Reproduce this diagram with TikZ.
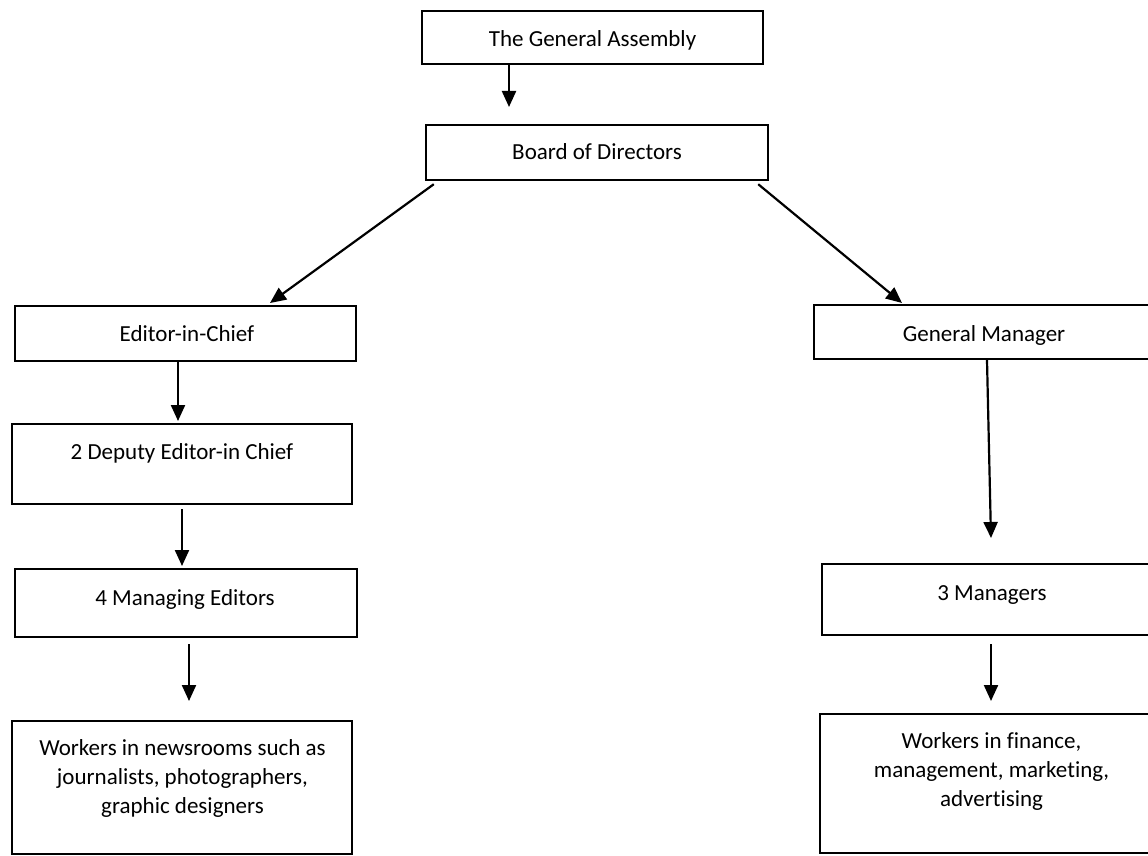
\documentclass[tikz,border=0pt]{standalone}
\usepackage{fontspec}
\setmainfont{Carlito}[Ligatures=NoCommon]
\usetikzlibrary{arrows.meta,calc}
\begin{document}
\begin{tikzpicture}[x=1pt,y=-1pt,
  box/.style={draw, line width=2.4pt, inner sep=0pt},
  lbl/.style={inner sep=0pt, font=\fontsize{23}{29}\selectfont, align=center, anchor=base},
  arr/.style={line width=2.2pt, -{Triangle[length=16pt,width=14pt]}}]
\clip (0,0) rectangle (1148,856);
\fill[white] (0,0) rectangle (1148,856);

% boxes
\node[box, minimum width=341pt, minimum height=53pt]  (ga)    at (592.5,37.5)  {};
\node[box, minimum width=342pt, minimum height=55pt]  (board) at (597,152.5)   {};
\node[box, minimum width=341pt, minimum height=55pt]  (eic)   at (185.5,333.5) {};
\node[box, minimum width=340pt, minimum height=54pt]  (gm)    at (984,332)     {};
\node[box, minimum width=340pt, minimum height=80pt]  (dep)   at (182,464)     {};
\node[box, minimum width=342pt, minimum height=68pt]  (me)    at (186,603)     {};
\node[box, minimum width=340pt, minimum height=71pt]  (mgr)   at (992,599.5)   {};
\node[box, minimum width=340pt, minimum height=133pt] (wn)    at (182,787.5)   {};
\node[box, minimum width=343pt, minimum height=139pt] (wf)    at (991.5,783.5) {};

% labels (multi-line labels sit on the baseline of their last line)
\node[lbl] (ga-t)    at (592.5,47) {The General Assembly};
\node[lbl] (board-t) at (597,160)  {Board of Directors};
\node[lbl] (eic-t)   at (187,341)  {Editor-in-Chief};
\node[lbl] (gm-t)    at (984,341)  {General Manager};
\node[lbl] (dep-t)   at (182,459)  {2 Deputy Editor-in Chief};
\node[lbl] (me-t)    at (185,605)  {4 Managing Editors};
\node[lbl] (mgr-t)   at (992,600)  {3 Managers};
\node[lbl] (wn-t)    at (182.5,813) {Workers in newsrooms such as\\journalists, photographers,\\graphic designers};
\node[lbl] (wf-t)    at (991.5,806) {Workers in finance,\\management, marketing,\\advertising};

% arrow tips
\coordinate (t1) at (509,107);
\coordinate (t2) at (270,303);
\coordinate (t3) at (902,303);
\coordinate (t4) at (178,421);
\coordinate (t5) at (182,566);
\coordinate (t6) at (991,538);
\coordinate (t7) at (189,701);
\coordinate (t8) at (991,701);

% connectors
\draw[arr] (ga.south -| t1) -- (t1);
\draw[arr] ($(board.south west)+(9,3)$) -- (t2);
\draw[arr] ($(board.south east)+(-11,3)$) -- (t3);
\draw[arr] (eic.south -| t4) -- (t4);
\draw[arr] ($(dep.south -| t5)+(0,4)$) -- (t5);
\draw[arr] ($(gm.south)+(3,0)$) -- (t6);
\draw[arr] ($(me.south -| t7)+(0,6)$) -- (t7);
\draw[arr] ($(mgr.south -| t8)+(0,8)$) -- (t8);
\end{tikzpicture}
\end{document}
